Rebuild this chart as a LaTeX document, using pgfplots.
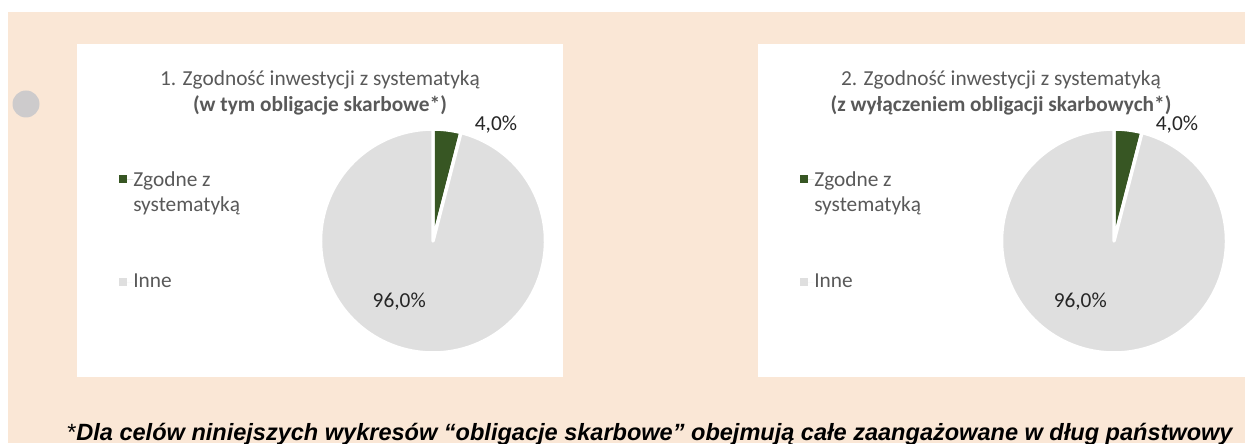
\documentclass[border=0pt]{standalone}
\usepackage{pgfplots}
\pgfplotsset{compat=1.18}
\usepackage{pgfplotstable}
\usepackage{fontspec}
\setmainfont{Carlito}
\newfontfamily\arialfont{Liberation Sans}

\definecolor{beige}{HTML}{FAE7D6}
\definecolor{pgreen}{HTML}{375623}
\definecolor{pgrey}{HTML}{DFDFDF}
\definecolor{tgrey}{HTML}{595959}
\definecolor{lblc}{HTML}{262626}
\definecolor{dotgrey}{HTML}{CDCBCC}

% chart 1 (w tym obligacje skarbowe)
\pgfplotstableread{
label value
zgodne 4.0
inne 96.0
}\pieA
% chart 2 (z wyłączeniem obligacji skarbowych)
\pgfplotstableread{
label value
zgodne 4.0
inne 96.0
}\pieB
\pgfplotstablegetelem{0}{value}\of\pieA \edef\aA{\pgfplotsretval}
\pgfplotstablegetelem{1}{value}\of\pieA \edef\bA{\pgfplotsretval}
\pgfplotstablegetelem{0}{value}\of\pieB \edef\aB{\pgfplotsretval}
\pgfplotstablegetelem{1}{value}\of\pieB \edef\bB{\pgfplotsretval}

\pgfplotsset{
  pie/.style={hide axis, scale only axis, width=168.75pt, height=168pt,
    xmin=-1, xmax=1, ymin=-1, ymax=1, anchor=origin, clip=false,
    legend cell align=left,
    legend style={draw=none, fill=none, inner sep=0pt,
      font=\fontsize{16}{18.75}\selectfont, text=tgrey,
      at={(-0.8956,0.821)}, anchor=north west,
      row sep=64pt, nodes={inner sep=0pt}},
  },
  slice/.style={draw=white, line width=2.6pt, line join=round},
  greenleg/.style={legend image code/.code={\fill[pgreen, draw=none] (0pt,-2.6pt) rectangle (6pt,3.4pt); \path[draw=none] (0pt,0pt) -- (10.5pt,0pt);}},
  greyleg/.style={legend image code/.code={\fill[pgrey, draw=none] (0pt,-3pt) rectangle (6pt,3pt); \path[draw=none] (0pt,0pt) -- (10.5pt,0pt);}},
}

\newcommand{\legA}{\begin{tabular}[t]{@{}l@{}}Zgodne z\\systematyką\end{tabular}}

\begin{document}
\begin{tikzpicture}[x=0.75pt,y=0.75pt]
\useasboundingbox (0,0) rectangle (1245,443);
\fill[white] (0,0) rectangle (1245,443);
\fill[beige] (8,0) rectangle (1245,431);
\fill[dotgrey] (26,339) circle (13.5);
\fill[white] (77,66) rectangle (563,399);
\fill[white] (758,66) rectangle (1245,399);
\coordinate (c1) at (433,202);
\coordinate (c2) at (1114,202);

% titles
\node[anchor=base, text=tgrey, font=\fontsize{16}{18.75}\selectfont] at (320,357) {1. Zgodność inwestycji z systematyką};
\node[anchor=base, text=tgrey, font=\fontsize{16}{18.75}\selectfont\bfseries] at (320,331) {(w tym obligacje skarbowe*)};
\node[anchor=base, text=tgrey, font=\fontsize{16}{18.75}\selectfont] at (1001,357) {2. Zgodność inwestycji z systematyką};
\node[anchor=base, text=tgrey, font=\fontsize{16}{18.75}\selectfont\bfseries] at (1001,331) {(z wyłączeniem obligacji skarbowych*)};

\begin{axis}[pie, at={(c1)}]
\addplot[slice, fill=pgreen, domain=0:3.6*\aA, samples=20, greenleg]
  ({sin(x)},{cos(x)}) -- (axis cs:0,0) -- cycle;
\addlegendentry{\legA}
\addplot[slice, fill=pgrey, domain=3.6*\aA:360, samples=150, greyleg]
  ({sin(x)},{cos(x)}) -- (axis cs:0,0) -- cycle;
\addlegendentry{Inne}
\node[text=lblc, font=\fontsize{16}{18.75}\selectfont] at (axis cs:0.56,1.036) {4,0\%};
\node[text=lblc, font=\fontsize{16}{18.75}\selectfont] at (axis cs:-0.3,-0.54) {96,0\%};
\end{axis}

\begin{axis}[pie, at={(c2)}]
\addplot[slice, fill=pgreen, domain=0:3.6*\aB, samples=20, greenleg]
  ({sin(x)},{cos(x)}) -- (axis cs:0,0) -- cycle;
\addlegendentry{\legA}
\addplot[slice, fill=pgrey, domain=3.6*\aB:360, samples=150, greyleg]
  ({sin(x)},{cos(x)}) -- (axis cs:0,0) -- cycle;
\addlegendentry{Inne}
\node[text=lblc, font=\fontsize{16}{18.75}\selectfont] at (axis cs:0.56,1.036) {4,0\%};
\node[text=lblc, font=\fontsize{16}{18.75}\selectfont] at (axis cs:-0.3,-0.54) {96,0\%};
\end{axis}

% footnote
\node[anchor=base west, inner sep=0pt, font=\arialfont\fontsize{17.65}{20}\selectfont] at (67,3)
  {*\textbf{\textit{Dla celów niniejszych wykresów “obligacje skarbowe” obejmują całe zaangażowane w dług państwowy}}};
\end{tikzpicture}
\end{document}
